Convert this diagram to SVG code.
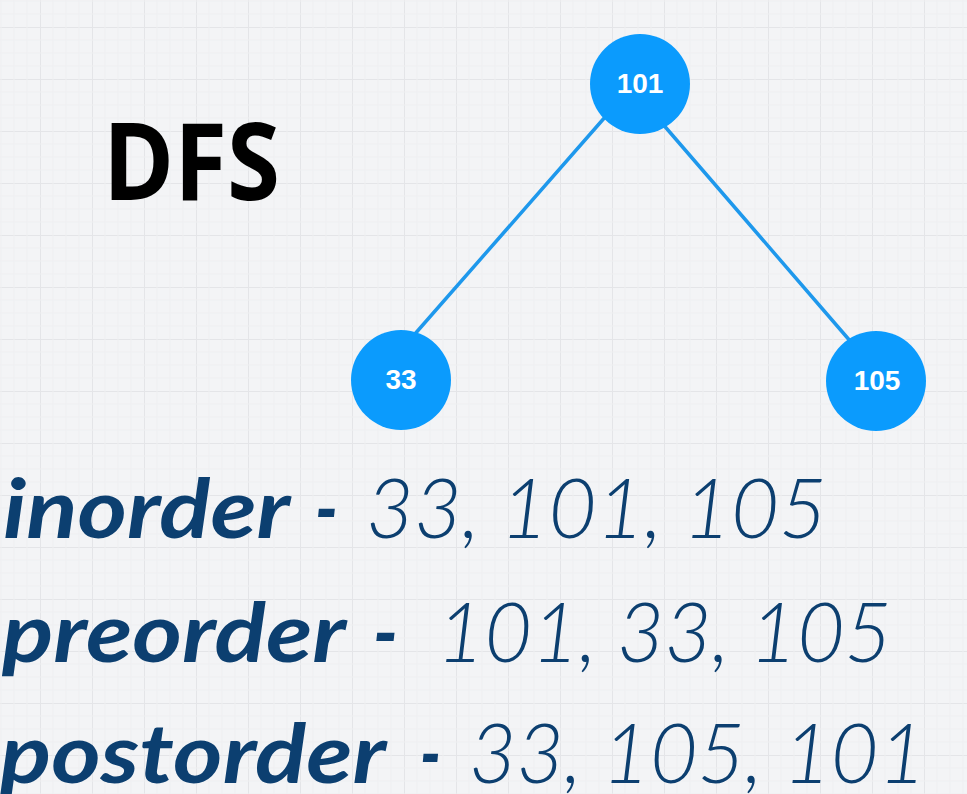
<svg xmlns="http://www.w3.org/2000/svg" width="967" height="794" viewBox="0 0 967 794">
<defs>
<pattern id="grid" width="52" height="52" patternUnits="userSpaceOnUse" x="40" y="27">
<path d="M0 0H52M0 0V52" fill="none" stroke="#e4e5e8" stroke-width="2"/>
<path d="M0 13H52M0 26H52M0 39H52M13 0V52M26 0V52M39 0V52" fill="none" stroke="#eeeff1" stroke-width="1"/>
</pattern>
<style>
.node circle{fill:#0b9bfd;}
.node text{fill:#ffffff;font-family:"Liberation Sans",Arial,sans-serif;font-weight:bold;font-size:28px;text-anchor:middle;}
.edge{stroke:#1e98ec;stroke-width:3.5;fill:none;stroke-linecap:round;}
.word{fill:#0c3f70;font-family:Lato,"Open Sans",sans-serif;font-weight:bold;font-style:italic;font-size:82px;}
.nums{fill:#0c3f70;font-family:Lato,"Open Sans",sans-serif;font-weight:300;font-style:italic;font-size:82px;}
.title{fill:#000000;font-family:"Open Sans","Noto Sans",sans-serif;font-weight:bold;font-size:108px;}
</style>
</defs>
<rect width="967" height="794" fill="#f3f4f6"/>
<rect width="967" height="794" fill="url(#grid)"/>
<text class="title" x="103" y="200" textLength="177" lengthAdjust="spacingAndGlyphs">DFS</text>
<g id="connectors">
<line class="edge" x1="606" y1="116" x2="414" y2="335"/>
<line class="edge" x1="661" y1="122" x2="851" y2="342"/>
</g>
<g id="node-101" class="node">
<circle cx="640" cy="84" r="50"/>
<text x="640" y="93">101</text>
</g>
<g id="node-33" class="node">
<circle cx="401" cy="380" r="50"/>
<text x="401" y="389">33</text>
</g>
<g id="node-105" class="node">
<circle cx="876" cy="381" r="50"/>
<text x="877" y="390">105</text>
</g>
<g id="traversals">
<text class="word" x="3" y="538" textLength="287" lengthAdjust="spacingAndGlyphs">inorder</text>
<text class="word" x="315" y="538" textLength="23" lengthAdjust="spacingAndGlyphs">-</text>
<text class="nums" x="366" y="538" textLength="461" lengthAdjust="spacingAndGlyphs">33, 101, 105</text>
<text class="word" x="2" y="662" textLength="344" lengthAdjust="spacingAndGlyphs">preorder</text>
<text class="word" x="373" y="662" textLength="25" lengthAdjust="spacingAndGlyphs">-</text>
<text class="nums" x="437" y="662" textLength="455" lengthAdjust="spacingAndGlyphs">101, 33, 105</text>
<text class="word" x="0" y="783" textLength="386" lengthAdjust="spacingAndGlyphs">postorder</text>
<text class="word" x="420" y="783" textLength="21" lengthAdjust="spacingAndGlyphs">-</text>
<text class="nums" x="469" y="783" textLength="457" lengthAdjust="spacingAndGlyphs">33, 105, 101</text>
</g>
</svg>
